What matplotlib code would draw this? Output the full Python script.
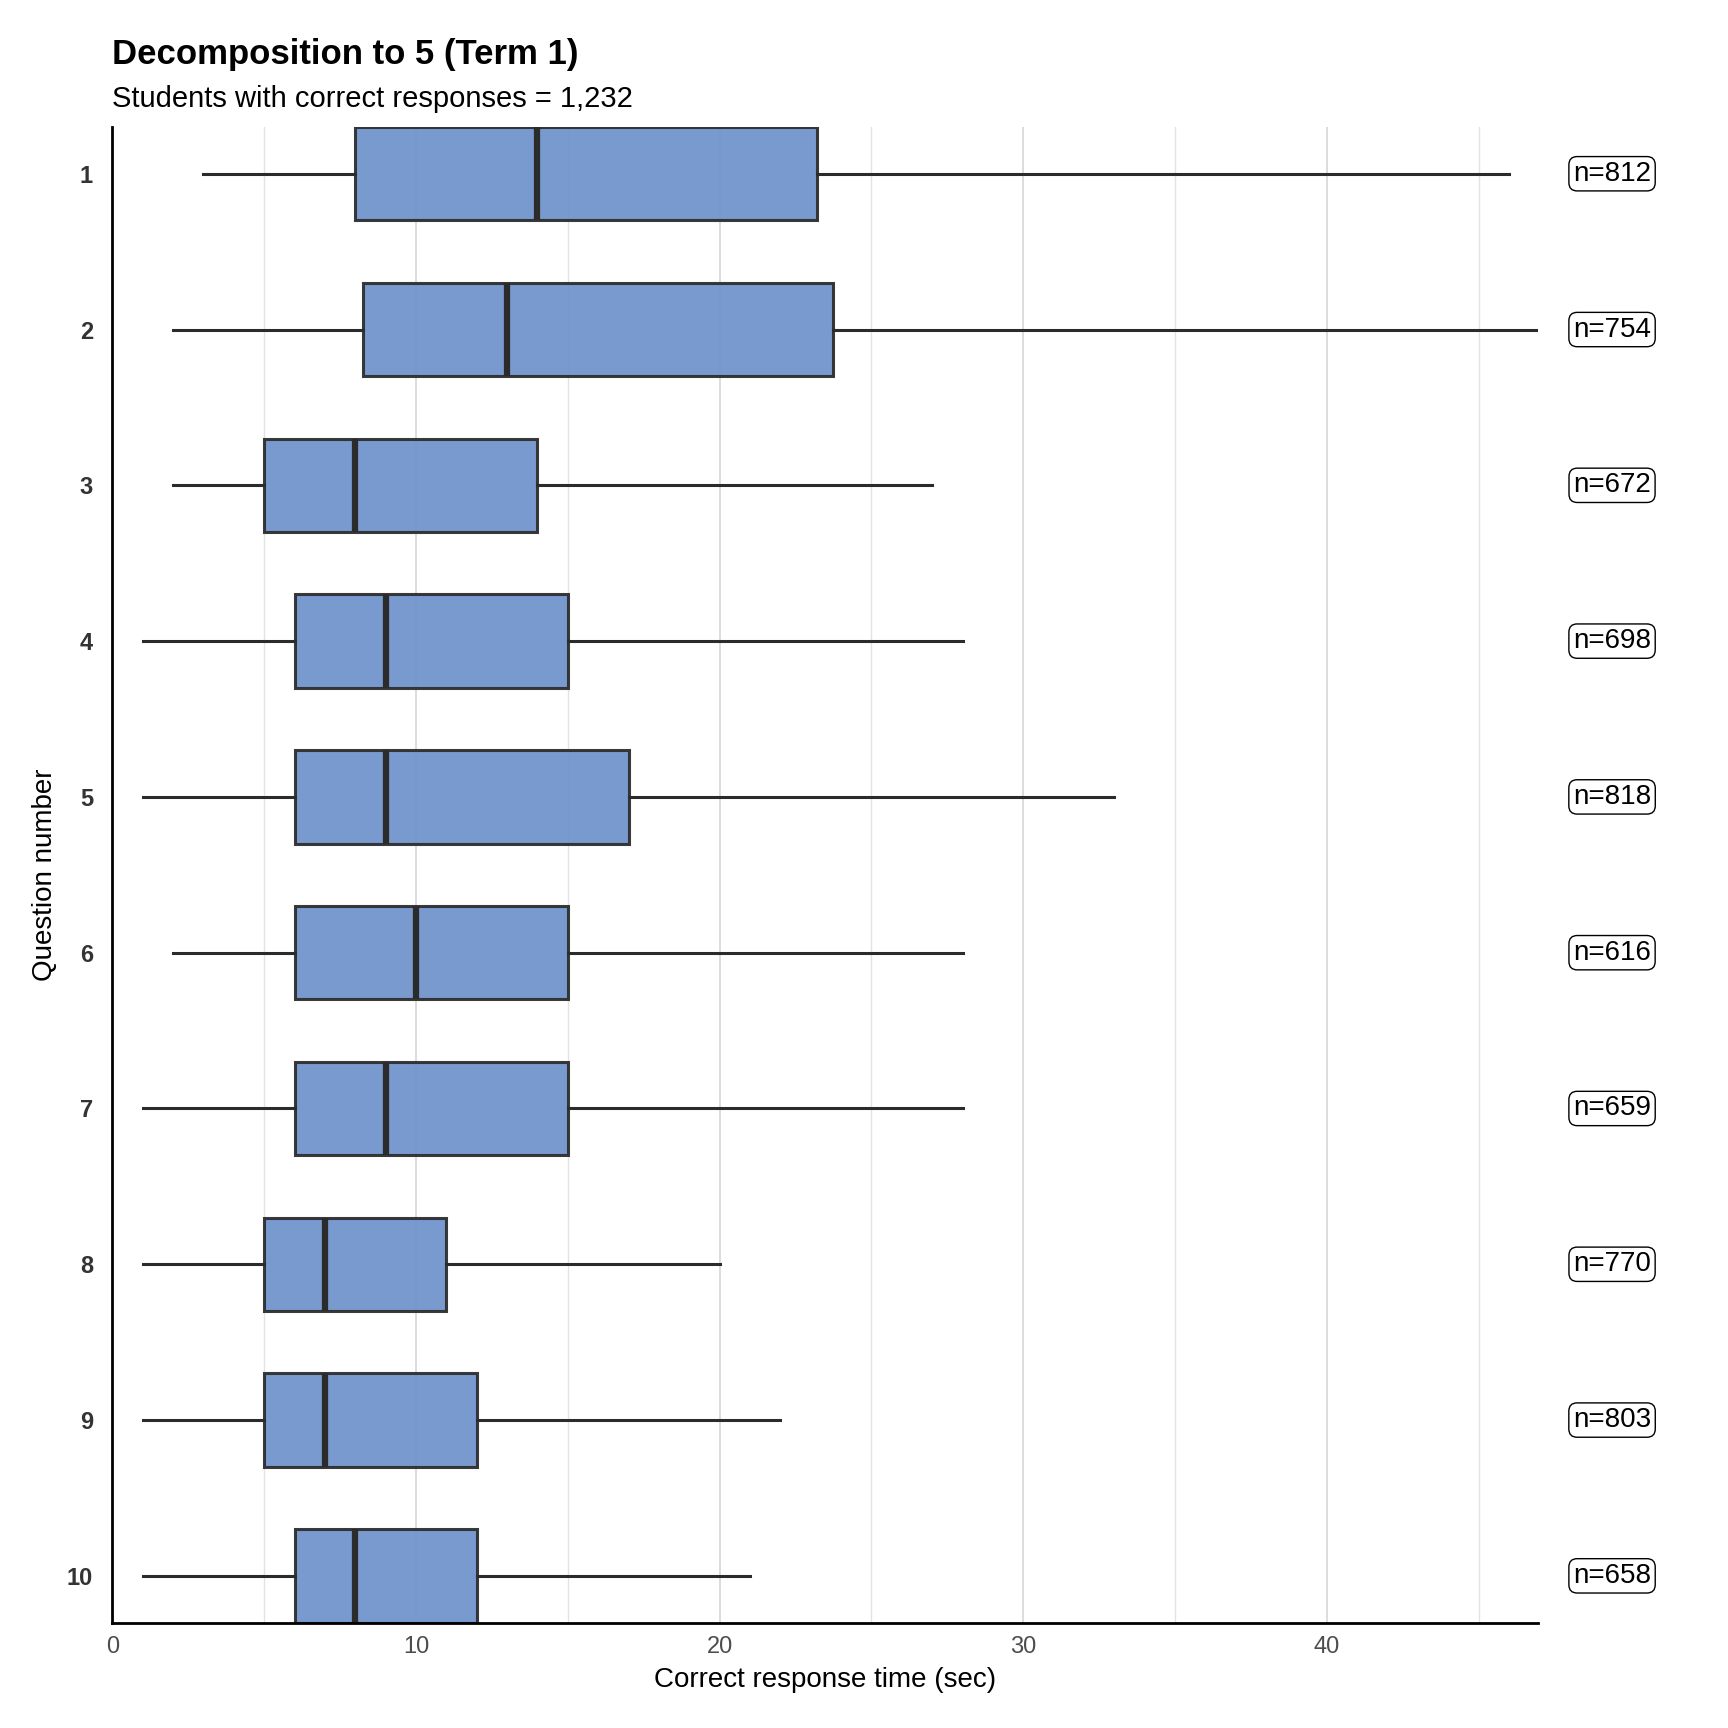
import matplotlib
matplotlib.use("Agg")
import matplotlib.pyplot as plt
import matplotlib.transforms as mtransforms

plt.rcParams['font.family'] = ['Liberation Sans', 'DejaVu Sans']

questions = ["1", "2", "3", "4", "5", "6", "7", "8", "9", "10"]
whislo = [3, 2, 2, 1, 1, 2, 1, 1, 1, 1]
q1 = [8, 8.25, 5, 6, 6, 6, 6, 5, 5, 6]
med = [14, 13, 8, 9, 9, 10, 9, 7, 7, 8]
q3 = [23.2, 23.75, 14, 15, 17, 15, 15, 11, 12, 12]
whishi = [46, 49, 27, 28, 33, 28, 28, 20, 22, 21]
n_counts = [812, 754, 672, 698, 818, 616, 659, 770, 803, 658]

fig = plt.figure(figsize=(17.28, 17.28), dpi=100)
ax = fig.add_axes([0.065, 0.061, 0.825, 0.8655])

stats = []
for i, q in enumerate(questions):
    stats.append(dict(label=q, whislo=whislo[i], q1=q1[i], med=med[i],
                      q3=q3[i], whishi=whishi[i], fliers=[]))

positions = list(range(1, len(questions) + 1))
ax.bxp(stats, positions=positions, vert=False, widths=0.6, patch_artist=True,
       showcaps=False, showfliers=False,
       boxprops=dict(facecolor='#6f93cb', edgecolor='#2b2b2b', linewidth=2.2, alpha=0.93),
       whiskerprops=dict(color='#2b2b2b', linewidth=2.2),
       medianprops=dict(color='#2b2b2b', linewidth=4.5))

ax.set_xlim(0, 46.95)
ax.set_ylim(10.3, 0.7)

# grid
for v in range(5, 50, 5):
    ax.axvline(v, color='#e3e3e3' if v % 10 else '#dcdcdc', lw=1.0 if v % 10 else 1.4, zorder=0)

ax.set_xticks([0, 10, 20, 30, 40])
ax.set_xticklabels(['0', '10', '20', '30', '40'])
ax.set_yticks(positions)
ax.set_yticklabels(questions, fontweight='bold')
ax.tick_params(axis='x', length=0, labelsize=17, labelcolor='#4d4d4d', pad=10)
ax.tick_params(axis='y', length=0, labelsize=17, labelcolor='#333333', pad=14)

for s in ['top', 'right']:
    ax.spines[s].set_visible(False)
for s in ['left', 'bottom']:
    ax.spines[s].set_linewidth(2)
    ax.spines[s].set_color('black')

ax.set_xlabel('Correct response time (sec)', fontsize=20, labelpad=6)
ax.set_ylabel('Question number', fontsize=20, labelpad=6)

trans = mtransforms.blended_transform_factory(ax.transAxes, ax.transData)
for i, n in enumerate(n_counts):
    ax.text(1.052, positions[i], f"n={n}", transform=trans, ha='center', va='center',
            fontsize=20, clip_on=False,
            bbox=dict(boxstyle='round,pad=0.15,rounding_size=0.3', fc='white', ec='black', lw=1))

fig.text(0.065, 0.963, 'Decomposition to 5 (Term 1)', fontsize=25, fontweight='bold', ha='left', va='baseline')
fig.text(0.065, 0.938, 'Students with correct responses = 1,232', fontsize=21, ha='left', va='baseline')

fig.savefig('out.png', dpi=100, facecolor='white')
